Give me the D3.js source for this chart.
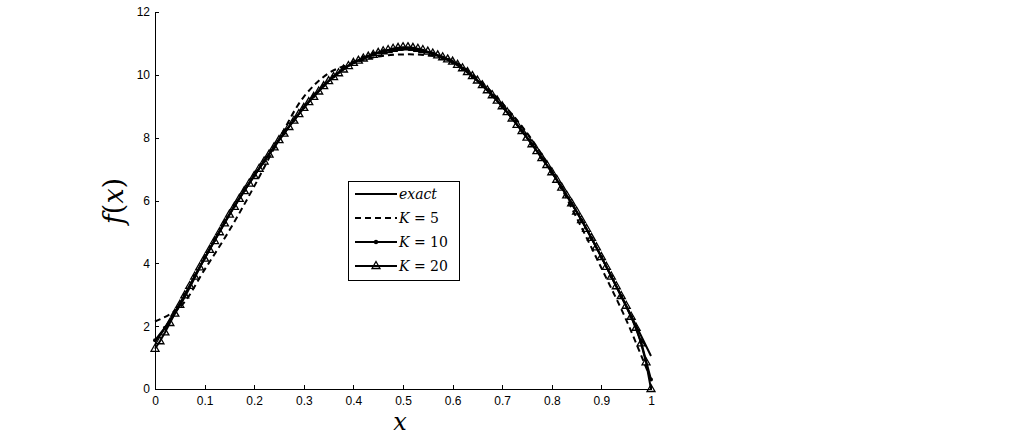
<!DOCTYPE html>
<html><head><meta charset="utf-8">
<script src="https://cdn.jsdelivr.net/npm/d3@7"></script>
<style>body{margin:0;background:#fff}svg{display:block}</style>
</head><body><svg id="c" width="1024" height="437"></svg>
<script>
// ---- data ----
const xTicks = [0,0.1,0.2,0.3,0.4,0.5,0.6,0.7,0.8,0.9,1];
const yTicks = [0,2,4,6,8,10,12];
const xCoarse = [0,0.05,0.1,0.15,0.2,0.25,0.3,0.35,0.4,0.45,0.5,0.55,0.6,0.65,0.7,0.75,0.8,0.85,0.9,0.95,1];
const exactVals = [1.50,2.65,4.15,5.55,6.78,7.92,8.95,9.80,10.38,10.70,10.82,10.72,10.42,9.82,9.00,8.00,6.90,5.65,4.20,2.65,1.05];
const k5Vals = [2.15,2.60,3.80,5.05,6.45,7.95,9.30,10.05,10.38,10.58,10.65,10.62,10.45,9.88,9.10,8.15,6.95,5.45,3.85,2.20,0.30];
const x10 = d3.range(0,51).map(i => i*0.02);
const k10Vals = [1.55,1.95,2.45,3.00,3.60,4.18,4.74,5.30,5.83,6.33,
  6.80,7.26,7.70,8.14,8.56,8.97,9.33,9.66,9.95,10.20,
  10.40,10.55,10.67,10.76,10.81,10.83,10.82,10.77,10.68,10.55,
  10.40,10.20,9.95,9.66,9.34,8.99,8.61,8.21,7.79,7.35,
  6.90,6.41,5.90,5.37,4.80,4.20,3.58,2.95,2.30,1.50,0.30];
const x20 = d3.range(0,101).map(i => i*0.01);
const k20Vals = [1.28,1.52,1.80,2.10,2.40,2.68,2.98,3.28,3.58,3.87,4.15,
  4.43,4.71,4.99,5.27,5.55,5.80,6.05,6.30,6.54,6.78,
  7.01,7.24,7.46,7.69,7.92,8.13,8.34,8.54,8.75,8.95,
  9.13,9.30,9.47,9.64,9.80,9.93,10.05,10.17,10.28,10.38,
  10.45,10.52,10.58,10.64,10.70,10.75,10.79,10.83,10.86,10.88,
  10.88,10.86,10.83,10.79,10.74,10.68,10.62,10.56,10.49,10.42,
  10.32,10.21,10.09,9.96,9.82,9.67,9.51,9.35,9.18,9.00,
  8.81,8.61,8.41,8.21,8.00,7.79,7.57,7.35,7.13,6.90,
  6.66,6.41,6.16,5.91,5.65,5.38,5.10,4.81,4.51,4.20,
  3.89,3.58,3.27,2.96,2.65,2.30,1.95,1.45,0.85,0.00];
const legendLabels = ["exact","K = 5","K = 10","K = 20"];

// ---- drawing ----
const svg = d3.select("#c");
const x = d3.scaleLinear().domain([0,1]).range([155,651]);
const y = d3.scaleLinear().domain([0,12]).range([389,12]);
const tickFont = "'Liberation Sans', Arial, sans-serif";
const serif = "'DejaVu Serif', serif";

const gx = svg.append("g").attr("transform","translate(0,389)")
  .call(d3.axisBottom(x).tickValues(xTicks).tickFormat(d3.format("")).tickSizeInner(-4).tickSizeOuter(0).tickPadding(7));
const gy = svg.append("g").attr("transform","translate(155,0)")
  .call(d3.axisLeft(y).tickValues(yTicks).tickFormat(d3.format("d")).tickSizeInner(-4).tickSizeOuter(0).tickPadding(5));
[gx,gy].forEach(g=>{
  g.attr("font-size",12).attr("font-family",tickFont);
  g.select(".domain").attr("stroke","#000").attr("stroke-width",1).attr("shape-rendering","crispEdges");
  g.selectAll(".tick line").attr("stroke","#000").attr("shape-rendering","crispEdges");
  g.selectAll(".tick text").attr("font-family",tickFont).attr("font-size",12).attr("fill","#000");
});

const lineCR = d3.line().x(d=>x(d[0])).y(d=>y(d[1])).curve(d3.curveCatmullRom);
const lineL = d3.line().x(d=>x(d[0])).y(d=>y(d[1]));
const zip = (xs,ys)=>xs.map((v,i)=>[v,ys[i]]);

const plot = svg.append("g");
plot.append("path").attr("d",lineCR(zip(xCoarse,exactVals))).attr("fill","none").attr("stroke","#000").attr("stroke-width",2);
plot.append("path").attr("d",lineCR(zip(xCoarse,k5Vals))).attr("fill","none").attr("stroke","#000").attr("stroke-width",2).attr("stroke-dasharray","6,4");
plot.append("path").attr("d",lineL(zip(x10,k10Vals))).attr("fill","none").attr("stroke","#000").attr("stroke-width",2);
plot.selectAll("circle.k10").data(zip(x10,k10Vals)).join("circle").attr("class","k10")
  .attr("cx",d=>x(d[0])).attr("cy",d=>y(d[1])).attr("r",2).attr("fill","#000");
plot.append("path").attr("d",lineL(zip(x20,k20Vals))).attr("fill","none").attr("stroke","#000").attr("stroke-width",2);
const tri = "M0,-4.5L4,2.5L-4,2.5Z";
plot.selectAll("path.k20").data(zip(x20,k20Vals)).join("path").attr("class","k20")
  .attr("d",tri).attr("transform",d=>`translate(${x(d[0])},${y(d[1])})`)
  .attr("fill","none").attr("stroke","#000").attr("stroke-width",1.3);

// axis labels
svg.append("text").attr("x",400).attr("y",430).attr("text-anchor","middle")
  .attr("font-family",serif).attr("font-style","italic").attr("font-size",24).text("x");
const yl = svg.append("text").attr("transform","translate(123,201) rotate(-90)").attr("text-anchor","middle")
  .attr("font-family",serif).attr("font-size",27);
yl.append("tspan").attr("font-style","italic").text("f");
yl.append("tspan").text("(");
yl.append("tspan").attr("font-style","italic").text("x");
yl.append("tspan").text(")");

// legend
const lg = svg.append("g");
lg.append("rect").attr("x",348.5).attr("y",181.5).attr("width",111).attr("height",99)
  .attr("fill","#fff").attr("stroke","#000").attr("stroke-width",1);
const rows = [194,218,242,266];
legendLabels.forEach((lab,i)=>{
  const ry = rows[i];
  const ln = lg.append("line").attr("x1",355).attr("x2",397).attr("y1",ry).attr("y2",ry)
    .attr("stroke","#000").attr("stroke-width",2);
  if(i===1) ln.attr("stroke-dasharray","6,4");
  if(i===2) lg.append("circle").attr("cx",376).attr("cy",ry).attr("r",2.2).attr("fill","#000");
  if(i===3) lg.append("path").attr("d",tri).attr("transform",`translate(376,${ry})`).attr("fill","none").attr("stroke","#000").attr("stroke-width",1.3);
  const t = lg.append("text").attr("x",399).attr("y",ry+5).attr("font-family",serif).attr("font-size",14);
  if(i===0){ t.append("tspan").attr("font-style","italic").text("exact"); }
  else {
    const parts = lab.split(" = ");
    t.append("tspan").attr("font-style","italic").text(parts[0]);
    t.append("tspan").attr("xml:space","preserve").text(" = "+parts[1]);
  }
});
</script>
</body></html>
